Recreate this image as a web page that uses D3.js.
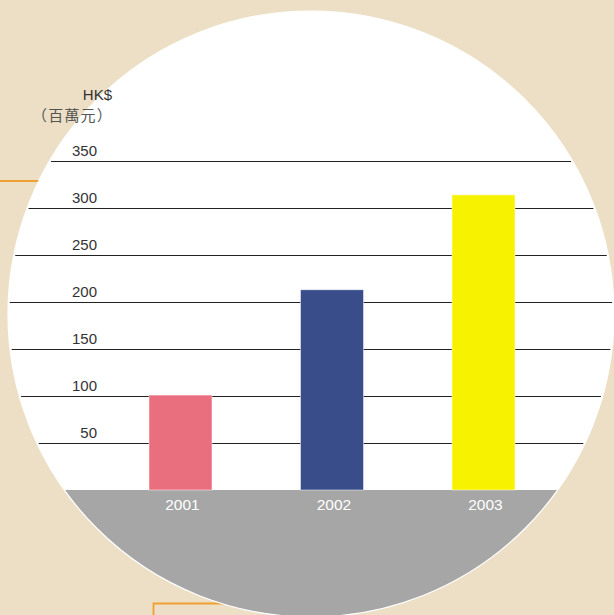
<!DOCTYPE html>
<html>
<head>
<meta charset="utf-8">
<script src="https://cdn.jsdelivr.net/npm/d3@7"></script>
<style>
  body { margin: 0; background: #ecdfc5; }
  svg { display: block; }
</style>
</head>
<body>
<div id="chart"></div>
<script>
// données du graphique
const years = ["2001", "2002", "2003"];
const amounts = [101, 213, 314];
const barColors = ["#ea6f7e", "#384d8a", "#f7f200"];
const tickValues = [50, 100, 150, 200, 250, 300, 350];

const width = 614,
  height = 615;
const cx = 311, cy = 314, r = 303;

var svg = d3
  .select("#chart")
  .append("svg")
  .attr("width", width)
  .attr("height", height);

svg.append("rect")
  .attr("width", width)
  .attr("height", height)
  .attr("fill", "#ecdfc5");

// petits traits orange derrière le cercle
svg.append("line")
  .attr("x1", 0).attr("x2", 60)
  .attr("y1", 181).attr("y2", 181)
  .attr("stroke", "#f0a033").attr("stroke-width", 1.8);
svg.append("path")
  .attr("d", "M153.5,620 V603.5 H260")
  .attr("fill", "none")
  .attr("stroke", "#f0a033").attr("stroke-width", 1.8);

svg.append("clipPath")
  .attr("id", "disc")
  .append("circle")
  .attr("cx", cx).attr("cy", cy).attr("r", r);

svg.append("clipPath")
  .attr("id", "disc-in")
  .append("circle")
  .attr("cx", cx).attr("cy", cy).attr("r", r - 1.5);

svg.append("circle")
  .attr("cx", cx).attr("cy", cy).attr("r", r)
  .attr("fill", "#fff");

var y = d3.scaleLinear()
  .domain([0, 350])
  .range([490, 161]);

var x = d3.scalePoint()
  .domain(years)
  .range([180.5, 483.5]);

const barW = 63;

// sol gris
svg.append("rect")
  .attr("clip-path", "url(#disc)")
  .attr("x", 0).attr("y", y(0))
  .attr("width", width).attr("height", height - y(0))
  .attr("fill", "#a6a6a6");

svg.append("circle")
  .attr("cx", cx).attr("cy", cy).attr("r", r)
  .attr("fill", "none")
  .attr("stroke", "#fff").attr("stroke-width", 1.2);

// lignes de grille
svg.append("g")
  .attr("clip-path", "url(#disc-in)")
  .selectAll("line")
  .data(tickValues)
  .join("line")
  .attr("x1", 0).attr("x2", width)
  .attr("y1", d => Math.round(y(d)) + 0.5)
  .attr("y2", d => Math.round(y(d)) + 0.5)
  .attr("stroke", "#222")
  .attr("stroke-width", 1);

svg.append("g")
  .selectAll("text")
  .data(tickValues)
  .join("text")
  .attr("x", 97)
  .attr("y", d => y(d) - 5)
  .attr("text-anchor", "end")
  .attr("font-family", "Liberation Sans, Arial, sans-serif")
  .attr("font-size", 15)
  .attr("fill", "#333")
  .text(d => d);

svg.append("text")
  .attr("x", 112).attr("y", 100)
  .attr("text-anchor", "end")
  .attr("font-family", "Liberation Sans, Arial, sans-serif")
  .attr("font-size", 15)
  .attr("fill", "#333")
  .text("HK$");

svg.append("text")
  .attr("x", 113).attr("y", 121)
  .attr("text-anchor", "end")
  .attr("font-family", "Noto Sans CJK TC, sans-serif")
  .attr("font-size", 15)
  .attr("letter-spacing", 1.2)
  .attr("fill", "#555")
  .text("（百萬元）");

// barres
svg.append("g")
  .selectAll("rect")
  .data(years)
  .join("rect")
  .attr("x", d => x(d) - barW / 2)
  .attr("y", (d, i) => y(amounts[i]))
  .attr("width", barW)
  .attr("height", (d, i) => y(0) - y(amounts[i]))
  .attr("fill", (d, i) => barColors[i])
  .attr("stroke", "#fff")
  .attr("stroke-opacity", 0.6)
  .attr("stroke-width", 0.8);

svg.append("g")
  .selectAll("text")
  .data(years)
  .join("text")
  .attr("x", d => x(d) + 2)
  .attr("y", 510)
  .attr("text-anchor", "middle")
  .attr("font-family", "Liberation Sans, Arial, sans-serif")
  .attr("font-size", 15.5)
  .attr("fill", "#fff")
  .text(d => d);
</script>
</body>
</html>
